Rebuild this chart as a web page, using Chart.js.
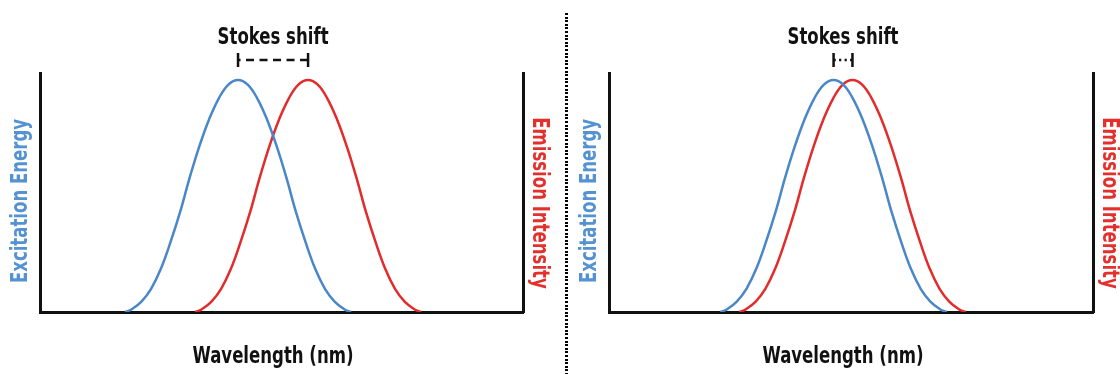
<!DOCTYPE html>
<html>
<head>
<meta charset="utf-8">
<script src="https://cdn.jsdelivr.net/npm/chart.js@4.4.1/dist/chart.umd.min.js"></script>
<style>
  html, body { margin: 0; padding: 0; background: #fff; }
  #wrap { position: relative; width: 1120px; height: 374px; overflow: hidden; background: #fff; }
  #wrap canvas { position: absolute; top: 0; }
  #divider {
    position: absolute; left: 565px; top: 13px; width: 3px; height: 361px;
    background: repeating-linear-gradient(to bottom, #000 0 2px, transparent 2px 3.6px);
  }
</style>
</head>
<body>
<div id="wrap">
  <canvas id="largeShift" width="560" height="374" style="left:0"></canvas>
  <div id="divider"></div>
  <canvas id="smallShift" width="560" height="374" style="left:560px"></canvas>
</div>
<script>
// Wavelength axis runs 0..100 (arbitrary units); intensity in % of peak.
const excitationIntensity = [0, 1.2, 4.5, 10, 18.5, 30, 43, 58, 71.5, 83, 92, 98, 100, 98, 92, 83, 71.5, 58, 43, 30, 18.5, 10, 4.5, 1.2, 0];
const emissionIntensity   = [0, 1.2, 4.5, 10, 18.5, 30, 43, 58, 71.5, 83, 92, 98, 100, 98, 92, 83, 71.5, 58, 43, 30, 18.5, 10, 4.5, 1.2, 0];

// Large Stokes shift panel
const largeExcitationWl = [17.6, 19.0, 21.0, 23.0, 25.0, 27.0, 29.0, 31.0, 33.0, 35.0, 37.0, 39.0, 41.0, 43.0, 45.0, 47.0, 49.0, 51.0, 53.0, 55.0, 57.0, 59.0, 61.0, 63.0, 64.4];
const largeEmissionWl   = [32.1, 33.5, 35.5, 37.5, 39.5, 41.5, 43.5, 45.5, 47.5, 49.5, 51.5, 53.5, 55.5, 57.5, 59.5, 61.5, 63.5, 65.5, 67.5, 69.5, 71.5, 73.5, 75.5, 77.5, 78.9];

// Small Stokes shift panel
const smallExcitationWl = [23.0, 24.4, 26.4, 28.4, 30.4, 32.4, 34.4, 36.4, 38.4, 40.4, 42.4, 44.4, 46.4, 48.4, 50.4, 52.4, 54.4, 56.4, 58.4, 60.4, 62.4, 64.4, 66.4, 68.4, 69.8];
const smallEmissionWl   = [26.9, 28.3, 30.3, 32.3, 34.3, 36.3, 38.3, 40.3, 42.3, 44.3, 46.3, 48.3, 50.3, 52.3, 54.3, 56.3, 58.3, 60.3, 62.3, 64.3, 66.3, 68.3, 70.3, 72.3, 73.7];

const axisTitles = { x: 'Wavelength (nm)', left: 'Excitation Energy', right: 'Emission Intensity' };
const shiftLabel = 'Stokes shift';

const FONT = "'DejaVu Sans Condensed', 'DejaVu Sans', sans-serif";
const CONDENSE = 0.8;   // horizontal squeeze for a condensed bold look
const BLUE = '#4a87c9', RED = '#e32b2b';
const BLUE_TEXT = '#5592d2', RED_TEXT = '#e3302d';
const INK = '#111';

function pairs(xs, ys) { return xs.map((x, i) => ({ x: x, y: ys[i] })); }
function peakWavelength(points) {
  let best = points[0];
  points.forEach(p => { if (p.y > best.y) best = p; });
  return best.x;
}
function condensedText(ctx, text, x, y, angle) {
  ctx.save();
  ctx.translate(x, y);
  if (angle) ctx.rotate(angle);
  ctx.scale(CONDENSE, 1);
  ctx.fillText(text, 0, 0);
  ctx.restore();
}

// Draws the Stokes-shift bracket between the two peaks plus the text labels
const panelDecor = {
  id: 'panelDecor',
  afterDraw(chart, args, opts) {
    const { ctx, chartArea: a, scales } = chart;
    const ds = chart.data.datasets;
    const p1 = scales.x.getPixelForValue(peakWavelength(ds[0].data));
    const p2 = scales.x.getPixelForValue(peakWavelength(ds[1].data));
    const mid = (p1 + p2) / 2;
    ctx.save();
    ctx.strokeStyle = INK;
    ctx.lineWidth = 2.5;
    ctx.beginPath();
    ctx.moveTo(p1, 53); ctx.lineTo(p1, 67);
    ctx.moveTo(p2, 53); ctx.lineTo(p2, 67);
    ctx.stroke();
    ctx.setLineDash(opts.dash);
    ctx.lineDashOffset = opts.dashOffset;
    ctx.beginPath();
    ctx.moveTo(p1, 60); ctx.lineTo(p2, 60);
    ctx.stroke();
    ctx.setLineDash([]);

    ctx.font = 'bold 23px ' + FONT;
    ctx.fillStyle = INK;
    ctx.textAlign = 'center';
    ctx.textBaseline = 'alphabetic';
    condensedText(ctx, shiftLabel, mid, 43.5);
    condensedText(ctx, axisTitles.x, mid, 363);

    ctx.textBaseline = 'middle';
    ctx.fillStyle = BLUE_TEXT;
    condensedText(ctx, axisTitles.left, a.left - 18.5, 201, -Math.PI / 2);
    ctx.fillStyle = RED_TEXT;
    condensedText(ctx, axisTitles.right, a.right + 15.5, 203, Math.PI / 2);
    ctx.restore();
  }
};

function axis(position) {
  return {
    position: position,
    display: true,
    grid: { display: false, drawTicks: false },
    ticks: { display: false },
    border: { display: true, color: INK, width: 3 }
  };
}

function makePanel(id, exWl, emWl, padding, dash, dashOffset) {
  const xAxis = Object.assign(axis('bottom'), { type: 'linear', min: 0, max: 100 });
  const yAxis = Object.assign(axis('left'), { min: 0, max: 103 });
  const y2Axis = Object.assign(axis('right'), { min: 0, max: 103 });
  return new Chart(document.getElementById(id), {
    type: 'line',
    data: {
      datasets: [
        { label: axisTitles.left, data: pairs(exWl, excitationIntensity), borderColor: BLUE, borderWidth: 2.5,
          pointRadius: 0, tension: 0.4, fill: false, yAxisID: 'y' },
        { label: axisTitles.right, data: pairs(emWl, emissionIntensity), borderColor: RED, borderWidth: 2.5,
          pointRadius: 0, tension: 0.4, fill: false, yAxisID: 'y' }
      ]
    },
    options: {
      responsive: false,
      animation: false,
      events: [],
      layout: { padding: padding },
      plugins: {
        legend: { display: false },
        tooltip: { enabled: false },
        title: { display: false },
        panelDecor: { dash: dash, dashOffset: dashOffset }
      },
      scales: { x: xAxis, y: yAxis, y2: y2Axis }
    },
    plugins: [panelDecor]
  });
}

makePanel('largeShift', largeExcitationWl, largeEmissionWl,
  { left: 40, right: 37, top: 73, bottom: 62 }, [8, 5.5], 5.5);
makePanel('smallShift', smallExcitationWl, smallEmissionWl,
  { left: 49, right: 27, top: 73, bottom: 62 }, [2.2, 3.3], 0);
</script>
</body>
</html>
